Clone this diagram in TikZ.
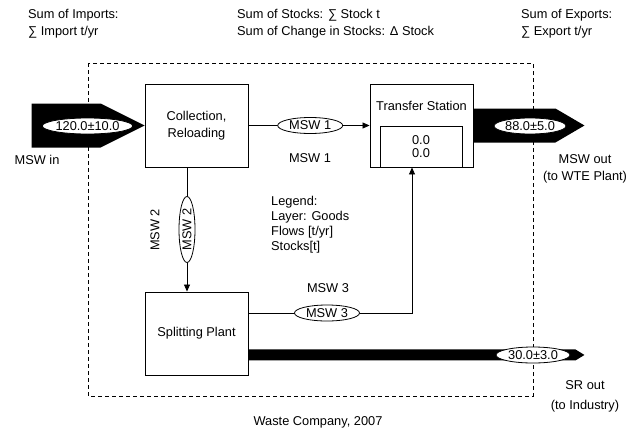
\documentclass[tikz,border=0pt]{standalone}
\usepackage{fontspec}
\setmainfont{Liberation Sans}
\usetikzlibrary{shapes.geometric,arrows.meta,calc}
\begin{document}
\begin{tikzpicture}[x=1pt,y=-1pt,
  font=\fontsize{12.8}{15}\selectfont,
  box/.style={draw,line width=0.9pt,minimum width=103pt,minimum height=83pt,inner sep=0pt,align=center},
  lbl/.style={draw,fill=white,ellipse,inner sep=0pt,minimum height=16pt,line width=0.8pt},
  conn/.style={line width=0.8pt},
  tipped/.style={conn,-{Triangle[length=7pt,width=6pt]}},
  txt/.style={inner sep=0pt,align=center},
  boundary/.style={line width=0.8pt,dash pattern=on 4pt off 3pt},
  flowfill/.style={fill=black}
]
\useasboundingbox (0,0) rectangle (644,436);

% system boundary
\draw[boundary] (88,63) rectangle (533,396);

% header texts
\node[txt,anchor=west,align=left,font=\fontsize{12.8}{17}\selectfont] (imp) at (28,24) {Sum of Imports:\\∑ Import t/yr};
\node[txt,anchor=west,align=left,font=\fontsize{12.8}{17}\selectfont] (stk) at (237,24) {Sum of Stocks: ∑ Stock t\\Sum of Change in Stocks: Δ Stock};
\node[txt,anchor=west,align=left,font=\fontsize{12.8}{17}\selectfont] (exp) at (521,24) {Sum of Exports:\\∑ Export t/yr};

% processes
\node[box,font=\fontsize{12.8}{17}\selectfont] (coll) at (196.5,125.5) {Collection,\\Reloading};
\node[box] (ts) at (421.5,125.5) {};
\node[txt] (tstitle) at (421.5,106) {Transfer Station};
\node[draw,line width=0.9pt,minimum width=82pt,minimum height=41pt,inner sep=0pt,align=center,font=\fontsize{12.8}{13}\selectfont] (tsin) at (421,146.5) {0.0\\0.0};
\node[box] (sp) at (196.5,333.5) {Splitting Plant};

% coordinates
\coordinate (m2x) at (187,0);
\coordinate (m3) at (412,313);

% black flows (import / exports)
\fill[flowfill] (coll.west) -- ++(-44,-22) -- ++(-69,0) -- ++(0,44) -- ++(69,0) -- cycle;
\node[lbl,minimum width=88pt] (inlbl) at (87.5,126) {120.0±10.0};
\node[txt] (intxt) at (37,160) {MSW in};

\fill[flowfill] (ts.east) ++(0,-17) -- ++(82,0) -- ++(29,17) -- ++(-29,17) -- ++(-82,0) -- cycle;
\node[lbl,minimum width=72pt] (outlbl) at (530,126) {88.0±5.0};
\node[txt] (outtxt) at (585,159) {MSW out};
\node[txt] (outtxt2) at (585,177) {(to WTE Plant)};

\fill[flowfill] (sp.south east) ++(0,-26) -- ++(327,0) -- ++(9,5.5) -- ++(-9,5.5) -- ++(-327,0) -- cycle;
\node[lbl,minimum width=74pt] (srlbl) at (533,355) {30.0±3.0};
\node[txt] (srtxt) at (585,385) {SR out};
\node[txt] (srtxt2) at (585,406) {(to Industry)};

% internal flows
\draw[tipped] (coll.east) -- (ts.west) node[lbl,pos=0.51,minimum width=65pt] (m1lbl) {MSW 1};
\node[txt] (m1txt) at (310,158) {MSW 1};

\draw[tipped] (coll.south -| m2x) -- (sp.north -| m2x) node[lbl,midway,rotate=90,minimum width=66pt,minimum height=16pt] (m2lbl) {MSW 2};
\node[txt,rotate=90] (m2txt) at (155,230) {MSW 2};

\draw[tipped] (sp.east |- m3) -- (m3) -- (m3 |- tsin.south);
\node[lbl,minimum width=65pt] (m3lbl) at (327,313) {MSW 3};
\node[txt] (m3txt) at (328,288) {MSW 3};

% legend
\node[txt,anchor=west,align=left] (legend) at (271,224.5) {Legend:\\Layer: Goods\\Flows [t/yr]\\Stocks[t]};

% footer
\node[txt] (footer) at (318,422) {Waste Company, 2007};
\end{tikzpicture}
\end{document}
